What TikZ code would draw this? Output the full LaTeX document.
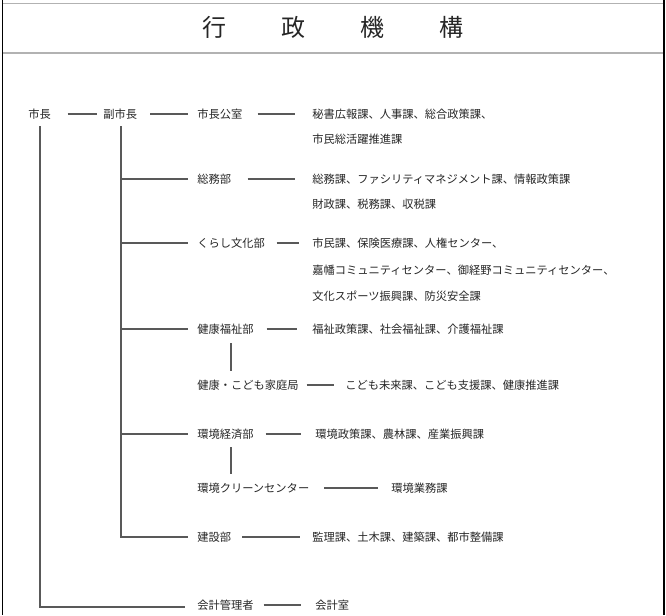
\documentclass[tikz,border=0pt]{standalone}
\usepackage{fontspec}
\newfontfamily\jp{Noto Sans CJK JP}
\begin{document}
\begin{tikzpicture}[x=0.75pt,y=-0.75pt,
  txt/.style={font=\jp\fontsize{8.44pt}{10pt}\selectfont, inner sep=0pt, anchor=west, text=black!85},
  ttl/.style={font=\jp\fontsize{18pt}{20pt}\selectfont, inner sep=0pt, text=black!85},
  conn/.style={draw=black!65, line width=0.9pt},
  frame/.style={draw=black, line width=1.1pt},
  rule/.style={draw=black!30, line width=1.1pt}]
\useasboundingbox (0,0) rectangle (666,615);
% frame
\coordinate (fTL) at (2.5,0);
\coordinate (fBL) at (2.5,615);
\coordinate (fTR) at (664,0);
\coordinate (fBR) at (664,615);
\coordinate (r1L) at (2.5,3.5);
\coordinate (r1R) at (664,3.5);
\coordinate (r2L) at (2.5,53);
\coordinate (r2R) at (664,53);
\draw[rule] (r1L) -- (r1R);
\draw[rule] (r2L) -- (r2R);
\draw[frame] (fTL) -- (fBL);
\draw[frame] (fTR) -- (fBR);
% title
\node[ttl] (title) at (333,27) {行\hspace{41.25pt}政\hspace{41.25pt}機\hspace{41.25pt}構};
% nodes
\node[txt] (mayor) at (28,114) {市長};
\node[txt] (vice) at (103,114) {副市長};
\node[txt] (office) at (197,114) {市長公室};
\node[txt] (officeA) at (312,114) {秘書広報課、人事課、総合政策課、};
\node[txt] (officeB) at (312,139) {市民総活躍推進課};
\node[txt] (soumu) at (197,179) {総務部};
\node[txt] (soumuA) at (312,179) {総務課、ファシリティマネジメント課、情報政策課};
\node[txt] (soumuB) at (312,204) {財政課、税務課、収税課};
\node[txt] (kurashi) at (197,243) {くらし文化部};
\node[txt] (kurashiA) at (312,243) {市民課、保険医療課、人権センター、};
\node[txt] (kurashiB) at (312,270) {嘉幡コミュニティセンター、御経野コミュニティセンター、};
\node[txt] (kurashiC) at (312,296) {文化スポーツ振興課、防災安全課};
\node[txt] (kenkou) at (197,329) {健康福祉部};
\node[txt] (kenkouA) at (312,329) {福祉政策課、社会福祉課、介護福祉課};
\node[txt] (kodomo) at (197,385) {健康・こども家庭局};
\node[txt] (kodomoA) at (345,385) {こども未来課、こども支援課、健康推進課};
\node[txt] (kankyo) at (197,434) {環境経済部};
\node[txt] (kankyoA) at (315,434) {環境政策課、農林課、産業振興課};
\node[txt] (clean) at (197,488) {環境クリーンセンター};
\node[txt] (cleanA) at (391,488) {環境業務課};
\node[txt] (kensetsu) at (197,537) {建設部};
\node[txt] (kensetsuA) at (312,537) {監理課、土木課、建築課、都市整備課};
\node[txt] (kaikei) at (197,605) {会計管理者};
\node[txt] (kaikeiA) at (315,605) {会計室};
% horizontal links
\draw[conn, shorten <=12.4pt, shorten >=4.5pt] (mayor.east) -- (mayor.east -| vice.west);
\draw[conn, shorten <=9.9pt, shorten >=6.75pt] (vice.east) -- (vice.east -| office.west);
\draw[conn, shorten <=11.25pt, shorten >=12.75pt] (office.east) -- (office.east -| officeA.west);
\draw[conn, shorten <=12.2pt, shorten >=12.75pt] (soumu.east) -- (soumu.east -| soumuA.west);
\draw[conn, shorten <=8.6pt, shorten >=9.75pt] (kurashi.east) -- (kurashi.east -| kurashiA.west);
\draw[conn, shorten <=9.6pt, shorten >=11.25pt] (kenkou.east) -- (kenkou.east -| kenkouA.west);
\draw[conn, shorten <=5.8pt, shorten >=8.25pt] (kodomo.east) -- (kodomo.east -| kodomoA.west);
\draw[conn, shorten <=8.8pt, shorten >=10.5pt] (kankyo.east) -- (kankyo.east -| kankyoA.west);
\draw[conn, shorten <=10.9pt, shorten >=9.75pt] (clean.east) -- (clean.east -| cleanA.west);
\draw[conn, shorten <=8.4pt, shorten >=9pt] (kensetsu.east) -- (kensetsu.east -| kensetsuA.west);
\draw[conn, shorten <=7.3pt, shorten >=10.5pt] (kaikei.east) -- (kaikei.east -| kaikeiA.west);
% vice trunk
\coordinate (vtop) at (121,126);
\coordinate (vbot) at (121,537);
\draw[conn] (vtop) -- (vbot -| vtop) -- (kensetsu.west) [shorten >=6.75pt];
\foreach \d in {soumu,kurashi,kenkou,kankyo}
  \draw[conn, shorten >=6.75pt] (vtop |- \d.west) -- (\d.west);
% mayor trunk
\coordinate (mtop) at (40,126);
\coordinate (mbot) at (40,607);
\draw[conn] (mtop) -- (mbot) -- ([xshift=-9pt]mbot -| kaikei.west);
% sub links
\coordinate (k1) at (231,343);
\coordinate (k2) at (231,371);
\draw[conn] (k1) -- (k2);
\coordinate (e1) at (231,447);
\coordinate (e2) at (231,474);
\draw[conn] (e1) -- (e2);
\end{tikzpicture}
\end{document}
